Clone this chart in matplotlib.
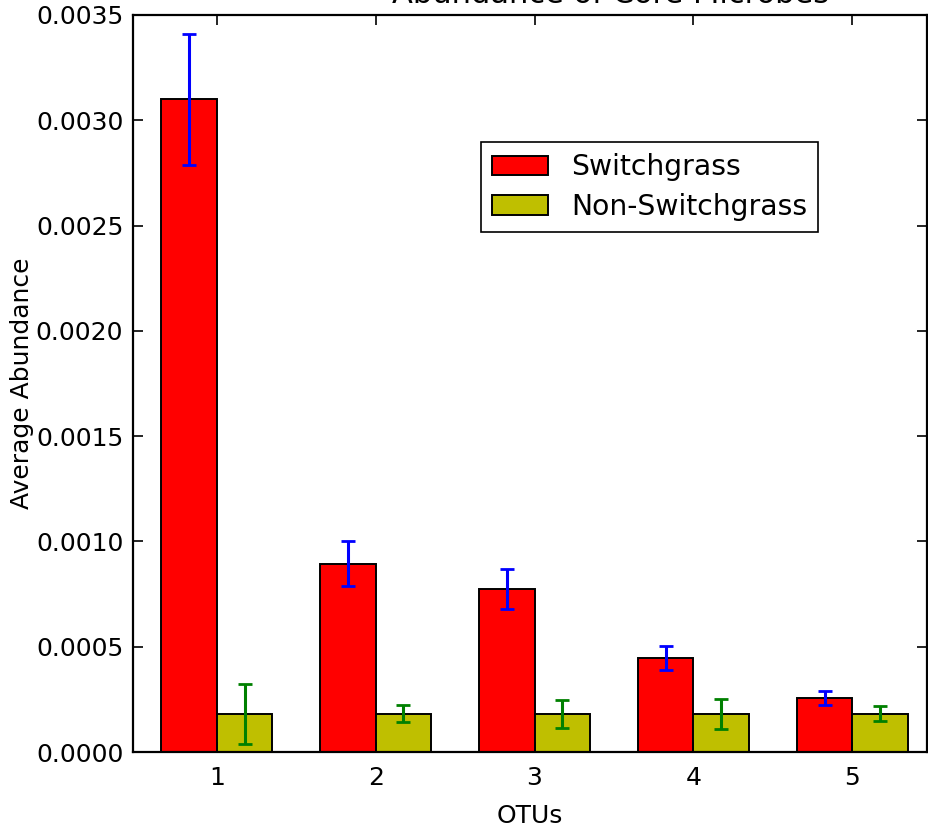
import matplotlib
matplotlib.use("Agg")
import matplotlib.pyplot as plt
import numpy as np

otus = ["1", "2", "3", "4", "5"]
switch_vals = [0.00310, 0.000895, 0.000772, 0.000448, 0.000258]
switch_err = [0.000310, 0.000108, 0.000095, 0.000057, 0.000033]
non_vals = [0.000181, 0.000181, 0.000181, 0.000181, 0.000181]
non_err = [0.000143, 0.000040, 0.000067, 0.000072, 0.000036]

plt.rcParams['font.family'] = ['DejaVu Sans']
plt.rcParams['font.size'] = 17.7

fig = plt.figure(figsize=(9.29, 8.27), dpi=100, facecolor='white')
ax = fig.add_axes([133/929, 75/827, 794/929, 737/827])

width = 0.35
idx = np.arange(len(otus))
ekw = dict(elinewidth=2.2, capthick=2.0)
ax.bar(idx, switch_vals, width, color='r', edgecolor='black', linewidth=1.4,
       yerr=switch_err, ecolor='b', capsize=4.7, error_kw=ekw, label='Switchgrass', align='edge')
ax.bar(idx + width, non_vals, width, color='y', edgecolor='black', linewidth=1.4,
       yerr=non_err, ecolor='g', capsize=4.7, error_kw=ekw, label='Non-Switchgrass', align='edge')

ax.set_xlim(-0.177, 4.82)
ax.set_ylim(0, 0.0035)
ax.set_xticks(idx + width)
ax.set_xticklabels(otus)
ax.set_yticks(np.arange(0, 0.00351, 0.0005))
ax.yaxis.set_major_formatter(matplotlib.ticker.FormatStrFormatter('%.4f'))
ax.tick_params(direction='in', top=True, right=True, length=7, width=1.2, pad=7, labelsize=18)
ax.tick_params(axis='x', pad=10)
for s in ax.spines.values():
    s.set_linewidth(1.6)

ax.set_xlabel('OTUs', fontsize=18, labelpad=10)
ax.set_ylabel('Average Abundance', fontsize=18, labelpad=1)
ax.set_title('Abundance of Core Microbes', fontsize=22, pad=8.5, x=0.601)

leg = ax.legend(loc='upper left', bbox_to_anchor=(0.438, 0.8277), borderaxespad=0,
                fancybox=False, framealpha=1, edgecolor='black', fontsize=20.3,
                handlelength=2.0, handletextpad=0.8, handleheight=0.7, labelspacing=0.4,
                borderpad=0.4)
leg.get_frame().set_linewidth(1.2)

fig.savefig('out.png', dpi=100, facecolor='white')
